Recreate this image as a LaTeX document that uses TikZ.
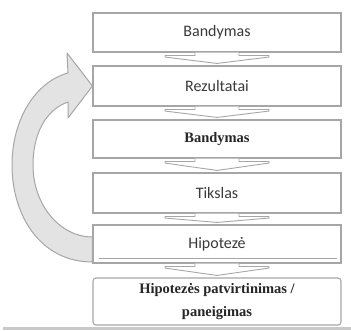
\documentclass[tikz,border=0pt]{standalone}
\usepackage{fontspec}
\usetikzlibrary{calc,backgrounds}
\newfontfamily\stepsans{Carlito}
\newfontfamily\stepserif{Liberation Serif}
\definecolor{box-line}{HTML}{A6A6A6}
\definecolor{arrow-fill}{HTML}{E3E3E3}
\definecolor{ink}{HTML}{3A3A3A}
\definecolor{rule-gray}{HTML}{C9C9C9}
\newcommand{\stepchevron}[2]{%
  \draw[chevron] ($(#1.south)+(-22,0)$) -- ++(0,3) -- ++(-30,0) -- ++(0,1.5)
    -- ($(#2.north)+(0,-2)$) -- ($(#1.south)+(52,4.5)$) -- ++(0,-1.5)
    -- ++(-30,0) -- ++(0,-3);}

\begin{document}
\begin{tikzpicture}[x=1pt, y=-1pt,
    stepbox/.style={draw=box-line, line width=1.1pt, fill=white,
      minimum width=248pt, inner sep=0pt},
    plain/.style={font=\stepsans\fontsize{16}{19}\selectfont, text=ink},
    heavy/.style={font=\stepserif\bfseries\fontsize{14.5}{23}\selectfont, text=black!85},
    chevron/.style={draw=box-line, line width=0.9pt, fill=white, line join=round},
    loop arrow/.style={draw=box-line, line width=1pt, fill=arrow-fill, line join=round}]
    \useasboundingbox (0,0) rectangle (351,331);
    \node[stepbox, plain, minimum height=39pt] (test1) at (217, 32.5) {Bandymas};
    \node[stepbox, plain, minimum height=40pt] (rez) at (217, 86) {Rezultatai};
    \node[stepbox, heavy, minimum height=38pt] (test2) at (217, 139) {Bandymas};
    \node[stepbox, plain, minimum height=40pt] (goal) at (217, 193) {Tikslas};
    \node[stepbox, plain, minimum height=38pt] (hyp) at (217, 244) {Hipotezė};
    \node[stepbox, heavy, minimum height=47pt, rounded corners=3pt, align=center]
      (verdict) at (217, 301.5) {Hipotezės patvirtinimas /\\ paneigimas};
    \draw[box-line, line width=0.8pt] ($(hyp.south west)+(7,-5)$) -- ($(hyp.south east)+(-5,-5)$);
    \stepchevron{test1}{rez}
    \stepchevron{rez}{test2}
    \stepchevron{test2}{goal}
    \stepchevron{goal}{hyp}
    \stepchevron{hyp}{verdict}
    % feedback arrow
    \begin{scope}[on background layer]
      \draw[loop arrow] ($(hyp.west)+(0,18)$) .. controls (40,262) and (12,215) .. (12,165)
        .. controls (12,120) and (35,82) .. (68,73) -- (67,53) -- (rez.west) -- (68,118)
        -- (68,102) .. controls (45,110) and (33,135) .. (33,165)
        .. controls (33,205) and (60,237) .. ($(hyp.west)+(0,-7)$) -- cycle;
    \end{scope}
    \draw[rule-gray, line width=3pt] (3,329) -- (351,329);
  \end{tikzpicture}
\end{document}
